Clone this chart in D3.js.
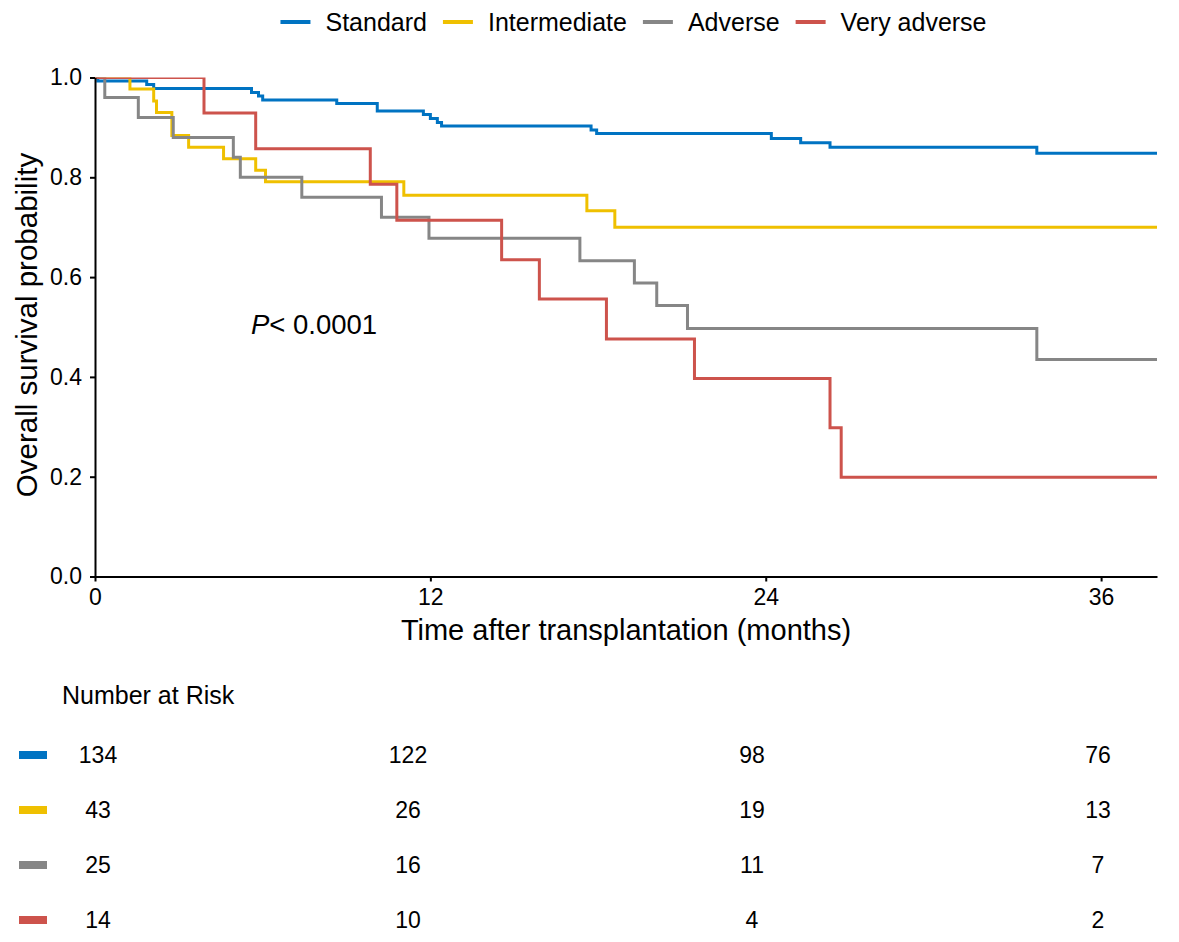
<!DOCTYPE html>
<html>
<head>
<meta charset="utf-8">
<script src="https://cdn.jsdelivr.net/npm/d3@7"></script>
<style>
  body { margin: 0; background: #fff; }
  svg { font-family: "Liberation Sans", Arial, sans-serif; }
  .axis path, .axis line { stroke: #000; stroke-width: 2; }
  .axis text { fill: #000; }
</style>
</head>
<body>
<svg width="1179" height="942"></svg>
<script>
// groepen en kleuren
var groups = ["Standard", "Intermediate", "Adverse", "Very adverse"];
var colors = ["#0073C2", "#EFC000", "#868686", "#CD534C"];

// Kaplan-Meier stappen (maanden, overleving)
var stdTime = [0, 0.1, 1.85, 2.1, 5.6, 5.85, 6.0, 8.65, 10.1, 11.75, 12.0, 12.25, 12.4, 17.75, 17.95, 24.2, 25.25, 26.3, 33.7];
var stdSurv = [1.0, 0.993, 0.986, 0.978, 0.970, 0.963, 0.955, 0.948, 0.933, 0.926, 0.918, 0.910, 0.903, 0.895, 0.888, 0.878, 0.869, 0.860, 0.848];

var intTime = [0, 1.25, 2.1, 2.2, 2.75, 3.35, 4.6, 5.75, 6.1, 11.05, 17.6, 18.6];
var intSurv = [1.0, 0.977, 0.953, 0.930, 0.884, 0.860, 0.837, 0.814, 0.791, 0.764, 0.733, 0.700];

var advTime = [0, 0.35, 1.55, 2.8, 4.95, 5.2, 7.4, 10.25, 11.95, 17.35, 19.3, 20.1, 21.2, 33.7];
var advSurv = [1.0, 0.96, 0.92, 0.88, 0.84, 0.80, 0.76, 0.72, 0.678, 0.633, 0.588, 0.543, 0.497, 0.435];

var vadTime = [0, 3.9, 5.75, 9.85, 10.8, 14.55, 15.9, 18.3, 21.45, 26.3, 26.7];
var vadSurv = [1.0, 0.929, 0.857, 0.786, 0.714, 0.635, 0.556, 0.476, 0.397, 0.298, 0.199];

// number at risk
var riskTimes = [0, 12, 24, 36];
var riskStd = [134, 122, 98, 76];
var riskInt = [43, 26, 19, 13];
var riskAdv = [25, 16, 11, 7];
var riskVad = [14, 10, 4, 2];

var xTicks = [0, 12, 24, 36];
var yTicks = [0, 0.2, 0.4, 0.6, 0.8, 1.0];
var maxTime = 38;

var svg = d3.select("svg"),
    margin = { top: 77.5, left: 95 },
    width = 1062,
    height = 499;

var x = d3.scaleLinear().domain([0, maxTime]).range([0, width]),
    y = d3.scaleLinear().domain([0, 1]).range([height, 0]);

var g = svg.append("g")
    .attr("transform", "translate(" + margin.left + "," + margin.top + ")");

// clip zoals ggplot het paneel afsnijdt
svg.append("defs").append("clipPath").attr("id", "panel")
    .append("rect").attr("x", 0).attr("y", 0).attr("width", width).attr("height", height);

var curves = [
    { time: stdTime, surv: stdSurv },
    { time: intTime, surv: intSurv },
    { time: advTime, surv: advSurv },
    { time: vadTime, surv: vadSurv }
].map(function (c) {
    var pts = c.time.map(function (t, i) { return [t, c.surv[i]]; });
    pts.push([maxTime, c.surv[c.surv.length - 1]]);
    return pts;
});

var line = d3.line()
    .curve(d3.curveStepAfter)
    .x(function (d) { return x(d[0]); })
    .y(function (d) { return y(d[1]); });

g.append("g").attr("clip-path", "url(#panel)")
    .selectAll(".km")
    .data(curves)
    .enter().append("path")
    .attr("class", "km")
    .attr("fill", "none")
    .attr("stroke", function (d, i) { return colors[i]; })
    .attr("stroke-width", 3)
    .attr("d", line);

// assen
g.append("g")
    .attr("class", "axis axis--x")
    .attr("transform", "translate(0," + height + ")")
    .call(d3.axisBottom(x).tickValues(xTicks).tickSize(5).tickPadding(7).tickSizeOuter(0))
    .selectAll("text").style("font-size", "23px");

g.append("g")
    .attr("class", "axis axis--y")
    .call(d3.axisLeft(y).tickValues(yTicks).tickFormat(d3.format(".1f")).tickSize(5).tickPadding(8).tickSizeOuter(0))
    .selectAll("text").style("font-size", "23px");

g.selectAll(".axis").attr("font-family", null);

// astitels
svg.append("text")
    .attr("x", margin.left + width / 2)
    .attr("y", 640)
    .attr("text-anchor", "middle")
    .style("font-size", "29px")
    .text("Time after transplantation (months)");

svg.append("text")
    .attr("transform", "translate(37," + (margin.top + height / 2 - 2) + ") rotate(-90)")
    .attr("text-anchor", "middle")
    .style("font-size", "29.5px")
    .text("Overall survival probability");

// p-waarde
var pt = svg.append("text")
    .attr("x", 251)
    .attr("y", 334)
    .style("font-size", "27.5px");
pt.append("tspan").style("font-style", "italic").text("P");
pt.append("tspan").text("< 0.0001");

// legenda boven
var leg = svg.append("g");
var lx = 0;
var items = leg.selectAll(".item")
    .data(groups)
    .enter().append("g")
    .attr("class", "item");
items.append("line")
    .attr("x1", 0).attr("x2", 30)
    .attr("stroke", function (d, i) { return colors[i]; })
    .attr("stroke-width", 4);
items.append("text")
    .attr("x", 45)
    .attr("dy", "0.36em")
    .style("font-size", "25px")
    .text(function (d) { return d; });
items.each(function () {
    var w = d3.select(this).select("text").node().getComputedTextLength();
    d3.select(this).attr("transform", "translate(" + lx + ",0)");
    lx += 45 + w + 16;
});
lx -= 16;
leg.attr("transform", "translate(" + (633.5 - lx / 2) + ",22)");

// number at risk tabel
svg.append("text")
    .attr("x", 62)
    .attr("y", 704)
    .style("font-size", "25px")
    .text("Number at Risk");

var xr = d3.scaleLinear().domain(riskTimes).range([98, 408, 752, 1098]);
var yr = d3.scalePoint().domain(groups).range([755, 920]);
var riskRows = [riskStd, riskInt, riskAdv, riskVad];

svg.selectAll(".riskKey")
    .data(groups)
    .enter().append("rect")
    .attr("class", "riskKey")
    .attr("x", 19)
    .attr("y", function (d) { return yr(d) - 4; })
    .attr("width", 28)
    .attr("height", 8)
    .attr("fill", function (d, i) { return colors[i]; });

riskRows.forEach(function (row, i) {
    svg.selectAll(".risk" + i)
        .data(row)
        .enter().append("text")
        .attr("class", "risk" + i)
        .attr("x", function (d, j) { return xr(riskTimes[j]); })
        .attr("y", yr(groups[i]))
        .attr("dy", "0.36em")
        .attr("text-anchor", "middle")
        .style("font-size", "23px")
        .text(function (d) { return d; });
});
</script>
</body>
</html>
